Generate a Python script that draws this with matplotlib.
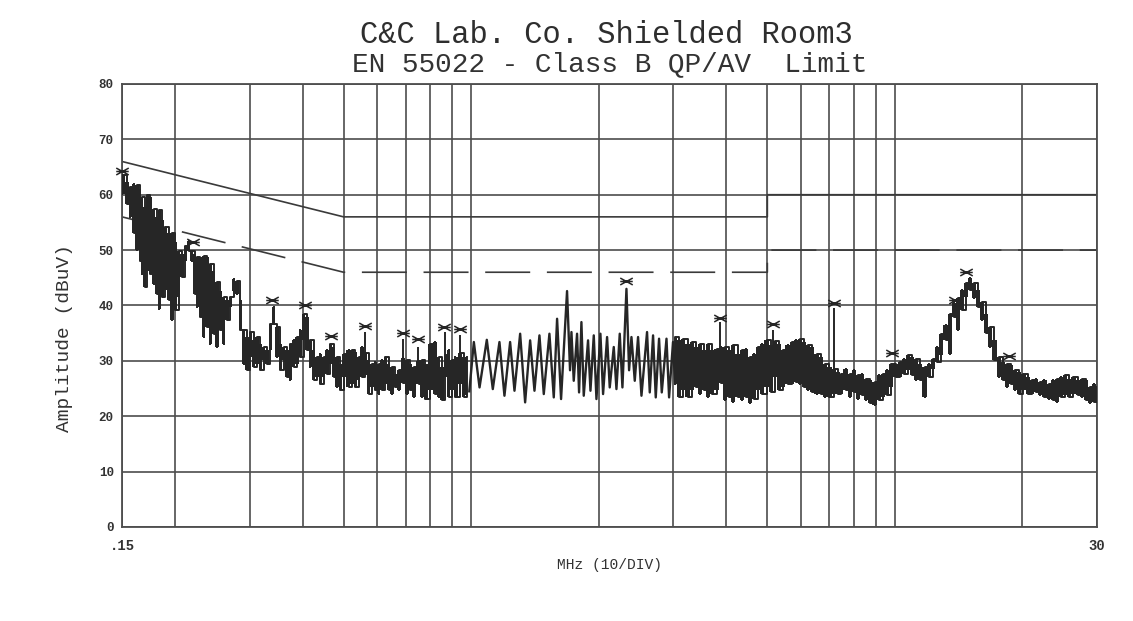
import numpy as np
import matplotlib
matplotlib.use("Agg")
import matplotlib.pyplot as plt
from matplotlib.path import Path
from matplotlib.ticker import FixedLocator, FixedFormatter, LogLocator, NullFormatter


# Texts
title = "C&C Lab. Co. Shielded Room3"
subtitle = "EN 55022 - Class B QP/AV  Limit"
x_label = "MHz (10/DIV)"
y_label = "Amplitude (dBuV)"
x_tick_values = [0.15, 30]
x_tick_labels = [".15", "30"]
y_tick_values = [0, 10, 20, 30, 40, 50, 60, 70, 80]

# EN 55022 class B limit lines (MHz, dBuV)
qp_limit_mhz = [0.15, 0.5, 5, 5, 30]
qp_limit_dbuv = [66, 56, 56, 60, 60]
av_limit_mhz = [0.15, 0.5, 5, 5, 30]
av_limit_dbuv = [56, 46, 46, 50, 50]

# Scan trace: top and bottom of each stroke
# 0.15 - 0.5 MHz
a_mhz = [0.1500, 0.1541, 0.1569, 0.1598, 0.1627, 0.1657, 0.1672, 0.1697, 0.1718, 0.1750,
         0.1782, 0.1814, 0.1837, 0.1864, 0.1898, 0.1933, 0.1968, 0.2004, 0.2040, 0.2078,
         0.2116, 0.2154, 0.2194, 0.2226, 0.2254, 0.2295, 0.2337, 0.2380, 0.2423, 0.2468,
         0.2513, 0.2559, 0.2605, 0.2653, 0.2701, 0.2751, 0.2801, 0.2852, 0.2904, 0.2957,
         0.3011, 0.3066, 0.3122, 0.3179, 0.3237, 0.3296, 0.3357, 0.3418, 0.3480, 0.3544,
         0.3609, 0.3674, 0.3742, 0.3810, 0.3879, 0.3950, 0.4022, 0.4096, 0.4171, 0.4247,
         0.4324, 0.4403, 0.4484, 0.4566, 0.4649, 0.4734, 0.4820, 0.4908, 0.4998]
a_hi = [63.5, 62.3, 61.4, 62.0, 61.7, 61.0, 59.6, 57.8, 59.9, 59.6,
        57.5, 56.0, 57.2, 55.4, 54.2, 53.0, 53.0, 51.4, 49.9, 49.3,
        50.8, 51.7, 49.9, 49.3, 48.7, 48.7, 49.0, 48.7, 47.5, 46.3,
        44.2, 42.7, 41.5, 40.9, 41.5, 44.8, 44.5, 40.9, 35.5, 34.3,
        35.2, 33.7, 34.3, 33.1, 32.5, 31.9, 36.7, 39.8, 36.1, 33.1,
        32.5, 31.9, 33.1, 33.7, 34.3, 35.5, 38.5, 37.9, 33.7, 31.9,
        30.7, 31.3, 30.7, 31.9, 33.1, 32.5, 30.7, 29.5, 31.3]
a_lo = [60.2, 58.4, 56.0, 53.0, 50.0, 48.0, 45.7, 43.3, 46.3, 45.7,
        43.9, 42.1, 39.4, 41.5, 42.8, 40.9, 37.3, 39.2, 41.5, 45.1,
        48.1, 49.9, 48.1, 42.1, 39.8, 37.9, 34.3, 36.1, 33.1, 34.9,
        32.5, 35.5, 33.1, 37.3, 39.8, 42.7, 42.1, 35.5, 29.5, 28.3,
        30.7, 28.9, 29.5, 28.3, 30.1, 29.5, 31.9, 36.7, 30.7, 28.3,
        30.1, 27.1, 26.5, 28.9, 29.5, 30.7, 33.7, 31.9, 28.9, 26.5,
        27.1, 25.9, 27.1, 27.7, 29.5, 27.1, 25.3, 24.7, 27.1]

# 0.5 - 1 MHz
b_mhz = [0.5136, 0.5230, 0.5325, 0.5423, 0.5522, 0.5623, 0.5726, 0.5830, 0.5937, 0.6045,
         0.6156, 0.6268, 0.6383, 0.6499, 0.6618, 0.6739, 0.6900, 0.7051, 0.7180, 0.7311,
         0.7512, 0.7650, 0.7789, 0.8004, 0.8224, 0.8375, 0.8528, 0.8683, 0.8842, 0.9004,
         0.9168, 0.9420, 0.9593, 0.9768]
b_hi = [31.9, 31.9, 31.6, 30.7, 32.5, 31.5, 30.1, 29.5, 29.8, 29.5,
        30.1, 30.7, 29.5, 28.9, 27.7, 28.3, 30.5, 30.1, 29.5, 28.9,
        30.0, 30.1, 29.5, 33.1, 33.4, 30.7, 28.9, 31.0, 31.9, 30.1,
        30.7, 31.5, 30.7, 30.7]
b_lo = [25.3, 25.9, 25.3, 26.5, 27.1, 27.5, 24.1, 25.3, 24.7, 24.1,
        24.7, 25.9, 24.7, 24.1, 25.3, 24.7, 26.0, 24.1, 24.7, 23.5,
        25.9, 23.5, 23.2, 24.7, 24.1, 23.5, 22.9, 27.1, 23.5, 24.7,
        23.5, 25.9, 23.5, 23.8]

# 1 - 3 MHz: single stroke trace, alternating peak / trough levels
pulse_mhz = [0.9900, 1.0147, 1.0466, 1.0888, 1.1248, 1.1662, 1.1983, 1.2358, 1.2654, 1.3050,
             1.3408, 1.3778, 1.4106, 1.4493, 1.4838, 1.5300, 1.5666, 1.5951, 1.6300, 1.6838,
             1.7113, 1.7246, 1.7462, 1.7780, 1.7975, 1.8206, 1.8437, 1.8874, 1.9122, 1.9469,
             1.9754, 2.0186, 2.0480, 2.0931, 2.1234, 2.1704, 2.2022, 2.2421, 2.2750, 2.3253,
             2.3588, 2.3894, 2.4327, 2.4768, 2.5229, 2.6007, 2.6393, 2.6871, 2.7266, 2.7761,
             2.8172, 2.8905, 2.9315, 2.9948, 3.0273]
pulse_dbuv = [24.5, 33.4, 25.2, 33.8, 24.9, 33.4, 23.7, 33.4, 24.6, 34.9,
              22.5, 33.7, 24.6, 34.6, 24.0, 34.9, 23.4, 37.6, 23.1, 42.6,
              28.3, 35.2, 26.4, 34.9, 24.3, 37.0, 23.7, 33.7, 24.6, 34.6,
              23.1, 34.9, 24.0, 34.3, 25.2, 32.5, 24.9, 34.9, 25.2, 43.0,
              28.3, 34.3, 26.4, 34.3, 23.7, 35.2, 24.3, 34.6, 23.4, 34.0,
              24.3, 34.0, 23.4, 33.4, 25.9]

# 3 - 7.2 MHz
d_mhz = [3.0273, 3.0937, 3.1673, 3.2426, 3.3138, 3.3866, 3.4672, 3.5496, 3.6276, 3.7072,
         3.7954, 3.8857, 3.9711, 4.0583, 4.1548, 4.2537, 4.3470, 4.4425, 4.5482, 4.6564,
         4.7586, 4.8631, 4.9788, 5.0973, 5.2092, 5.3236, 5.4503, 5.5799, 5.7024, 5.8277,
         5.9664, 6.1083, 6.2424, 6.3795, 6.5313, 6.6867, 6.8336, 6.9837, 7.1891]
d_hi = [34.3, 33.7, 34.0, 33.1, 33.4, 32.5, 33.1, 31.9, 33.1, 31.9,
        32.2, 32.5, 32.5, 31.9, 32.8, 31.3, 31.9, 32.2, 30.7, 31.3,
        32.5, 33.1, 33.7, 32.8, 33.5, 33.1, 31.9, 32.8, 33.4, 33.7,
        34.0, 33.4, 32.8, 32.5, 31.3, 30.7, 29.5, 28.9, 28.5]
d_lo = [25.9, 23.5, 24.7, 23.5, 24.7, 25.3, 24.1, 24.7, 23.5, 24.1,
        24.7, 26.0, 22.9, 23.5, 22.6, 23.5, 22.9, 23.5, 22.3, 23.2,
        24.7, 24.1, 25.3, 24.4, 27.1, 24.7, 25.3, 25.9, 25.9, 26.2,
        25.9, 25.3, 24.7, 24.4, 24.1, 24.1, 23.5, 23.5, 24.0]

# 7.3 - 30 MHz
e_mhz = [7.338, 7.473, 7.651, 7.819, 7.991, 8.181, 8.376, 8.559, 8.747, 8.955,
         9.169, 9.370, 9.576, 9.804, 10.037, 10.258, 10.483, 10.732, 10.988, 11.229,
         11.476, 11.749, 12.029, 12.293, 12.563, 12.862, 13.168, 13.457, 13.753, 14.080,
         14.415, 14.732, 15.000, 15.330, 15.694, 16.068, 16.420, 16.781, 17.180, 17.589,
         17.975, 18.369, 18.807, 19.254, 19.677, 20.109, 20.588, 21.078, 21.540, 22.017,
         22.541, 23.076, 23.583, 24.100, 24.674, 25.260, 25.815, 26.382, 27.009, 27.652,
         28.260, 28.880, 29.567, 30.000]
e_hi = [28.0, 27.7, 28.6, 27.7, 28.3, 27.4, 27.7, 26.8, 26.5, 26.2,
        27.4, 27.7, 28.3, 29.5, 29.5, 29.8, 30.4, 31.0, 30.7, 30.4,
        29.5, 28.9, 29.5, 30.4, 32.5, 34.9, 36.4, 38.5, 40.4, 41.3,
        42.8, 44.0, 44.9, 44.0, 42.8, 40.7, 38.5, 36.1, 33.7, 30.7,
        29.8, 29.5, 29.2, 28.3, 28.0, 27.7, 27.1, 26.5, 26.8, 26.2,
        26.5, 25.9, 26.5, 26.8, 27.1, 27.4, 26.8, 27.1, 26.5, 26.8,
        26.5, 25.3, 25.9, 25.3]
e_lo = [24.1, 24.1, 24.7, 23.5, 24.4, 23.2, 23.8, 22.9, 22.3, 22.0,
        22.9, 23.5, 23.8, 25.3, 27.1, 27.1, 27.7, 28.3, 27.4, 26.5,
        26.5, 23.5, 27.1, 28.6, 29.8, 31.0, 33.7, 31.3, 37.9, 35.5,
        39.2, 41.6, 42.8, 41.3, 39.8, 37.3, 35.0, 32.5, 30.1, 27.1,
        26.5, 25.3, 25.9, 24.7, 24.1, 24.7, 24.1, 24.1, 24.4, 23.8,
        23.5, 23.2, 22.9, 22.6, 23.5, 23.8, 23.5, 24.1, 23.8, 23.5,
        22.9, 22.3, 22.6, 22.9]

# Thin narrow-band spikes above the noise floor
spike_mhz = [0.562, 0.690, 0.750, 0.866, 0.940, 3.87, 5.17, 7.17]
spike_top = [35.2, 34.0, 32.5, 35.2, 34.6, 37.0, 35.5, 39.5]
spike_base = [29.0, 28.0, 28.0, 28.0, 28.0, 28.0, 28.0, 26.0]

# Peak markers
peak_mhz = [0.150, 0.2205, 0.339, 0.405, 0.467, 0.562, 0.690, 0.750, 0.865, 0.940,
            2.32, 3.87, 5.17, 7.17, 9.83, 13.83, 14.73, 18.63]
peak_dbuv = [64.3, 51.4, 40.9, 40.0, 34.4, 36.3, 35.1, 33.9, 36.1, 35.8,
             44.5, 37.8, 36.6, 40.5, 31.5, 41.0, 46.1, 30.8]

ink = "#262626"
grid_color = "#4d4d4d"
text_color = "#333333"
mono = ["Liberation Mono", "DejaVu Sans Mono"]


def square_wave(mhz, hi, lo):
    # one vertical stroke per reading, alternating up and down
    pairs = np.column_stack([lo, hi]).astype(float)
    pairs[1::2] = pairs[1::2, ::-1]
    return np.repeat(mhz, 2), pairs.ravel()


low_mhz = np.concatenate([a_mhz, b_mhz])
low_hi = np.concatenate([a_hi, b_hi])
low_lo = np.concatenate([a_lo, b_lo])
high_mhz = np.concatenate([d_mhz, e_mhz])
high_hi = np.concatenate([d_hi, e_hi])
high_lo = np.concatenate([d_lo, e_lo])

fig = plt.figure(figsize=(11.33, 6.21), dpi=100)
ax = fig.add_axes([0.1077, 0.1514, 0.8606, 0.7134])

ax.set_xscale("log")
ax.set_xlim(0.15, 30)
ax.set_ylim(0, 80)

# Grid
ax.xaxis.set_major_locator(FixedLocator(x_tick_values))
ax.xaxis.set_major_formatter(FixedFormatter(x_tick_labels))
ax.xaxis.set_minor_locator(LogLocator(base=10, subs=(1, 2, 3, 4, 5, 6, 7, 8, 9), numticks=20))
ax.xaxis.set_minor_formatter(NullFormatter())
ax.set_yticks(y_tick_values)
ax.grid(which="both", axis="x", color=grid_color, linewidth=1.2)
ax.grid(which="major", axis="y", color=grid_color, linewidth=1.2)
ax.set_axisbelow(True)
ax.tick_params(which="both", length=0)
ax.tick_params(axis="y", pad=6, labelsize=9, labelcolor=text_color)
ax.tick_params(axis="x", pad=9, labelsize=10, labelcolor=text_color)
for lab in ax.get_xticklabels() + ax.get_yticklabels():
    lab.set_family(mono)
    lab.set_fontweight("bold")
for sp in ax.spines.values():
    sp.set_color(grid_color)
    sp.set_linewidth(1.3)

# Limit lines
ax.plot(qp_limit_mhz, qp_limit_dbuv, color="#3a3a3a", linewidth=1.2)
ax.plot(av_limit_mhz, av_limit_dbuv, color="#3a3a3a", linewidth=1.2,
        linestyle=(0, (27, 10)))

# Trace: dense noise bands
for f, hi, lo in [(low_mhz, low_hi, low_lo), (high_mhz, high_hi, high_lo)]:
    ax.fill_between(f, lo, hi, step="mid", color=ink, linewidth=0, zorder=3)
    sx, sy = square_wave(f, hi, lo)
    ax.plot(sx, sy, color=ink, linewidth=1.4, drawstyle="steps-post", zorder=4)
# Trace: separated pulses 1 - 3 MHz
ax.plot(pulse_mhz, pulse_dbuv, color=ink, linewidth=1.7, zorder=4)
ax.vlines(spike_mhz, spike_base, spike_top, color=ink, linewidth=1.4, zorder=4)

# Peak markers
bowtie = Path([(-1, 0), (1, 0), (-1, -0.55), (1, 0.55), (-1, 0.55), (1, -0.55)],
              [Path.MOVETO, Path.LINETO] * 3)
ax.plot(peak_mhz, peak_dbuv, linestyle="none", marker=bowtie, markersize=9,
        markeredgewidth=1.1, markeredgecolor=ink, markerfacecolor="none",
        zorder=5, clip_on=False)

# Labels
ax.set_xlabel(x_label, family=mono, fontsize=10.5, color=text_color)
ax.xaxis.set_label_coords(0.5, -0.07)
ax.set_ylabel(y_label, family=mono, fontsize=14, color=text_color)
ax.yaxis.set_label_coords(-0.05, 0.427)
ax.set_title(subtitle, family=mono, fontsize=20, color=text_color, pad=9)
fig.suptitle(title, x=0.535, y=0.931, va="baseline", family=mono,
             fontsize=22, color="#2e2e2e")

fig.savefig("out.png", dpi=100, facecolor="white")
